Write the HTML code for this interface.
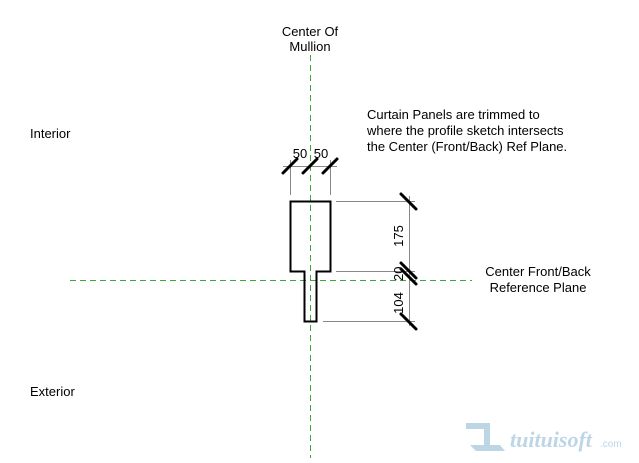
<!DOCTYPE html>
<html><head><style>
body{margin:0;background:#fff;width:639px;height:458px;overflow:hidden}
svg text{font-family:"Liberation Sans",Arial,sans-serif;font-size:13px;fill:#000}
</style></head><body>
<svg width="639" height="458" viewBox="0 0 639 458">
<g stroke="#3aa83a" stroke-width="1" stroke-dasharray="6,4" fill="none">
<line x1="310.5" y1="55" x2="310.5" y2="458"/>
<line x1="70" y1="280.5" x2="472" y2="280.5"/>
</g>
<g stroke="#888" stroke-width="1" fill="none">
<line x1="290.5" y1="160" x2="290.5" y2="195"/>
<line x1="330.5" y1="160" x2="330.5" y2="195"/>
<line x1="283" y1="166.5" x2="337" y2="166.5"/>
<line x1="336" y1="201.5" x2="415" y2="201.5"/>
<line x1="336" y1="271.5" x2="415" y2="271.5"/>
<line x1="323" y1="321.5" x2="415" y2="321.5"/>
<line x1="409.5" y1="196" x2="409.5" y2="326"/>
</g>
<g stroke="#000" stroke-width="3" stroke-linecap="round">
<line x1="283" y1="173" x2="297" y2="159"/>
<line x1="303" y1="173" x2="317" y2="159"/>
<line x1="323" y1="173" x2="337" y2="159"/>
<line x1="401" y1="194" x2="416" y2="209"/>
<line x1="401" y1="263" x2="416" y2="278"/>
<line x1="401" y1="269" x2="416" y2="284"/>
<line x1="401" y1="314" x2="416" y2="329"/>
</g>
<path d="M290.5 201.5 H330.5 V271.5 H316.5 V321.5 H304.5 V271.5 H290.5 Z" fill="none" stroke="#000" stroke-width="2"/>
<text x="300" y="158" text-anchor="middle">50</text>
<text x="321" y="158" text-anchor="middle">50</text>
<text transform="translate(403,236) rotate(-90)" text-anchor="middle">175</text>
<text transform="translate(403,272) rotate(-90)" text-anchor="middle">20,</text>
<text transform="translate(403,303) rotate(-90)" text-anchor="middle">104</text>
<text x="310" y="36" text-anchor="middle">Center Of</text>
<text x="310" y="51" text-anchor="middle">Mullion</text>
<text x="30" y="138">Interior</text>
<text x="30" y="396">Exterior</text>
<g style="font-size:13.6px">
<text x="367" y="119">Curtain Panels are trimmed to</text>
<text x="367" y="135">where the profile sketch intersects</text>
<text x="367" y="151">the Center (Front/Back) Ref Plane.</text>
</g>
<text x="538" y="276" text-anchor="middle">Center Front/Back</text>
<text x="538" y="292" text-anchor="middle">Reference Plane</text>
<g fill="#bcd6e6"><rect x="466" y="423" width="24" height="6"/><rect x="484" y="423" width="6" height="26"/><polygon points="470,445 500,445 505,451 476,451"/></g>
<text x="510" y="447" style="font-family:'Liberation Serif',serif;font-style:italic;font-weight:bold;font-size:22px;fill:#bcd6e6">tuituisoft</text>
<text x="600" y="447" style="font-size:10px;fill:#bcd6e6">.com</text>
</svg>
</body></html>
